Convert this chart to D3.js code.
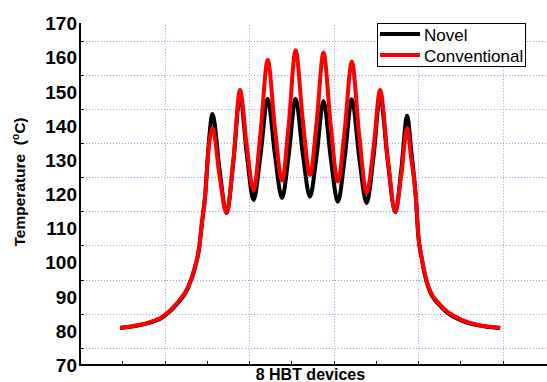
<!DOCTYPE html>
<html>
<head>
<meta charset="utf-8">
<script src="https://cdn.jsdelivr.net/npm/d3@7"></script>
<style>
  html, body { margin: 0; padding: 0; background: #fff; }
  text { font-family: "Liberation Sans", Arial, sans-serif; }
</style>
</head>
<body>
<svg id="chart" width="547" height="382"></svg>
<script>
// positions along the die (arbitrary units, 8 HBT fingers in the middle)
const xs = [
    0.95, 1.20, 1.50, 1.97, 2.29, 2.56, 2.72, 2.82, 2.88, 2.96, 3.04,
    3.135, 3.30, 3.466, 3.63, 3.785, 3.945, 4.105, 4.27, 4.44, 4.61, 4.78, 4.94, 5.10, 5.27,
    5.44, 5.60, 5.76, 5.93, 6.10, 6.265, 6.43, 6.605, 6.78, 6.945, 7.10, 7.28, 7.46, 7.60, 7.74,
    7.83, 7.95, 8.00, 8.08, 8.24, 8.56, 9.03, 9.42, 9.70, 9.94
];

const novel = [
    80.8, 81.2, 81.9, 84.1, 87.8, 92.7, 98.5, 104.3, 111.0, 119.5, 134.0,
    143.5, 127.3, 114.5, 129.7, 149.0, 131.8, 118.3, 131.4, 148.0, 131.7, 118.9, 131.7, 148.0, 131.9,
    119.3, 131.6, 147.3, 130.8, 117.8, 131.0, 147.8, 130.8, 117.4, 131.2, 148.8, 129.7, 114.7, 127.2, 143.0,
    133.5, 118.0, 108.2, 101.4, 92.7, 86.8, 83.0, 81.6, 81.1, 80.8
];

const conventional = [
    80.9, 81.3, 82.0, 84.3, 88.1, 93.0, 98.8, 104.6, 111.3, 119.5, 133.0,
    139.4, 125.5, 114.5, 130.3, 150.5, 134.1, 121.2, 138.0, 159.3, 139.5, 124.0, 140.8, 162.2, 141.7,
    125.6, 141.4, 161.4, 140.3, 123.7, 139.2, 158.8, 137.3, 120.4, 133.7, 150.5, 130.6, 114.9, 125.7, 139.4,
    131.0, 118.5, 108.5, 101.7, 93.0, 87.1, 83.2, 81.7, 81.2, 80.9
];

const yLabels = [70, 80, 90, 100, 110, 120, 130, 140, 150, 160, 170];
const yGrid = [75, 85, 95, 105, 115, 125, 135, 145, 155, 165];
const xTicks = [1, 2, 3, 4, 5, 6, 7, 8, 9, 10];
const xGrid = [2, 4, 6, 8, 10];
const seriesNames = ["Novel", "Conventional"];
const seriesColors = ["#000", "#ff0000"];

const svg = d3.select("#chart");

const x = d3.scaleLinear().domain([0, 11]).range([80, 545]);
const y = d3.scaleLinear().domain([70, 170]).range([365, 23.5]);

// dotted grid
const grid = svg.append("g")
    .attr("stroke", "#9a9af5")
    .attr("stroke-width", 1)
    .attr("stroke-dasharray", "1,2");

grid.selectAll("line.h").data(yGrid).enter().append("line")
    .attr("class", "h")
    .attr("x1", x(0)).attr("x2", 547)
    .attr("y1", d => Math.round(y(d)) + 0.5).attr("y2", d => Math.round(y(d)) + 0.5);

grid.selectAll("line.v").data(xGrid).enter().append("line")
    .attr("class", "v")
    .attr("x1", d => Math.round(x(d)) + 0.5).attr("x2", d => Math.round(x(d)) + 0.5)
    .attr("y1", y(169.5)).attr("y2", y(70));

// ticks (inside)
const ticks = svg.append("g").attr("stroke", "#000").attr("stroke-width", 1);
ticks.selectAll("line.yt").data(yGrid).enter().append("line")
    .attr("x1", x(0) - 1).attr("x2", x(0) + 4)
    .attr("y1", d => Math.round(y(d)) + 0.5).attr("y2", d => Math.round(y(d)) + 0.5);
ticks.selectAll("line.xt").data(xTicks).enter().append("line")
    .attr("x1", d => Math.round(x(d)) + 0.5).attr("x2", d => Math.round(x(d)) + 0.5)
    .attr("y1", y(70) + 1).attr("y2", y(70) - 4);

// axes lines
svg.append("line")
    .attr("x1", x(0)).attr("x2", x(0))
    .attr("y1", y(170) - 0.5).attr("y2", y(70) + 1)
    .attr("stroke", "#000").attr("stroke-width", 2);
svg.append("line")
    .attr("x1", x(0) - 1).attr("x2", 547)
    .attr("y1", y(70)).attr("y2", y(70))
    .attr("stroke", "#000").attr("stroke-width", 2);

// y tick labels
svg.append("g").selectAll("text").data(yLabels).enter().append("text")
    .attr("x", 77)
    .attr("y", d => y(d))
    .attr("dy", "0.36em")
    .attr("text-anchor", "end")
    .attr("font-size", 19)
    .attr("font-weight", "bold")
    .text(d => d);

// lines
const line = d3.line()
    .x((d, i) => x(xs[i]))
    .y(d => y(d))
    .curve(d3.curveMonotoneX);

[novel, conventional].forEach((s, k) => {
    svg.append("path")
        .datum(s)
        .attr("fill", "none")
        .attr("stroke", seriesColors[k])
        .attr("stroke-width", 4)
        .attr("stroke-linejoin", "round")
        .attr("d", line);
});

// axis titles
svg.append("text")
    .attr("x", x(5.45))
    .attr("y", 380)
    .attr("text-anchor", "middle")
    .attr("font-size", 16)
    .attr("font-weight", "bold")
    .text("8 HBT devices");

const yt = svg.append("text")
    .attr("transform", "translate(25,182) rotate(-90)")
    .attr("text-anchor", "middle")
    .attr("font-size", 15.5)
    .attr("font-weight", "bold");
yt.append("tspan").text("Temperature\u00a0 (");
yt.append("tspan").attr("font-size", 10).attr("dy", -6).text("o");
yt.append("tspan").attr("dy", 6).text("C)");

// legend
const lg = svg.append("g").attr("transform", "translate(377,23)");
lg.append("rect")
    .attr("x", 0.5).attr("y", 0.5)
    .attr("width", 148).attr("height", 43)
    .attr("fill", "#fff").attr("stroke", "#000").attr("stroke-width", 1);
seriesNames.forEach((name, k) => {
    const cy = 11 + k * 21;
    lg.append("line")
        .attr("x1", 3).attr("x2", 43)
        .attr("y1", cy).attr("y2", cy)
        .attr("stroke", seriesColors[k]).attr("stroke-width", 4);
    lg.append("text")
        .attr("x", 47).attr("y", cy + 6.5)
        .attr("font-size", 17)
        .text(name);
});
</script>
</body>
</html>
